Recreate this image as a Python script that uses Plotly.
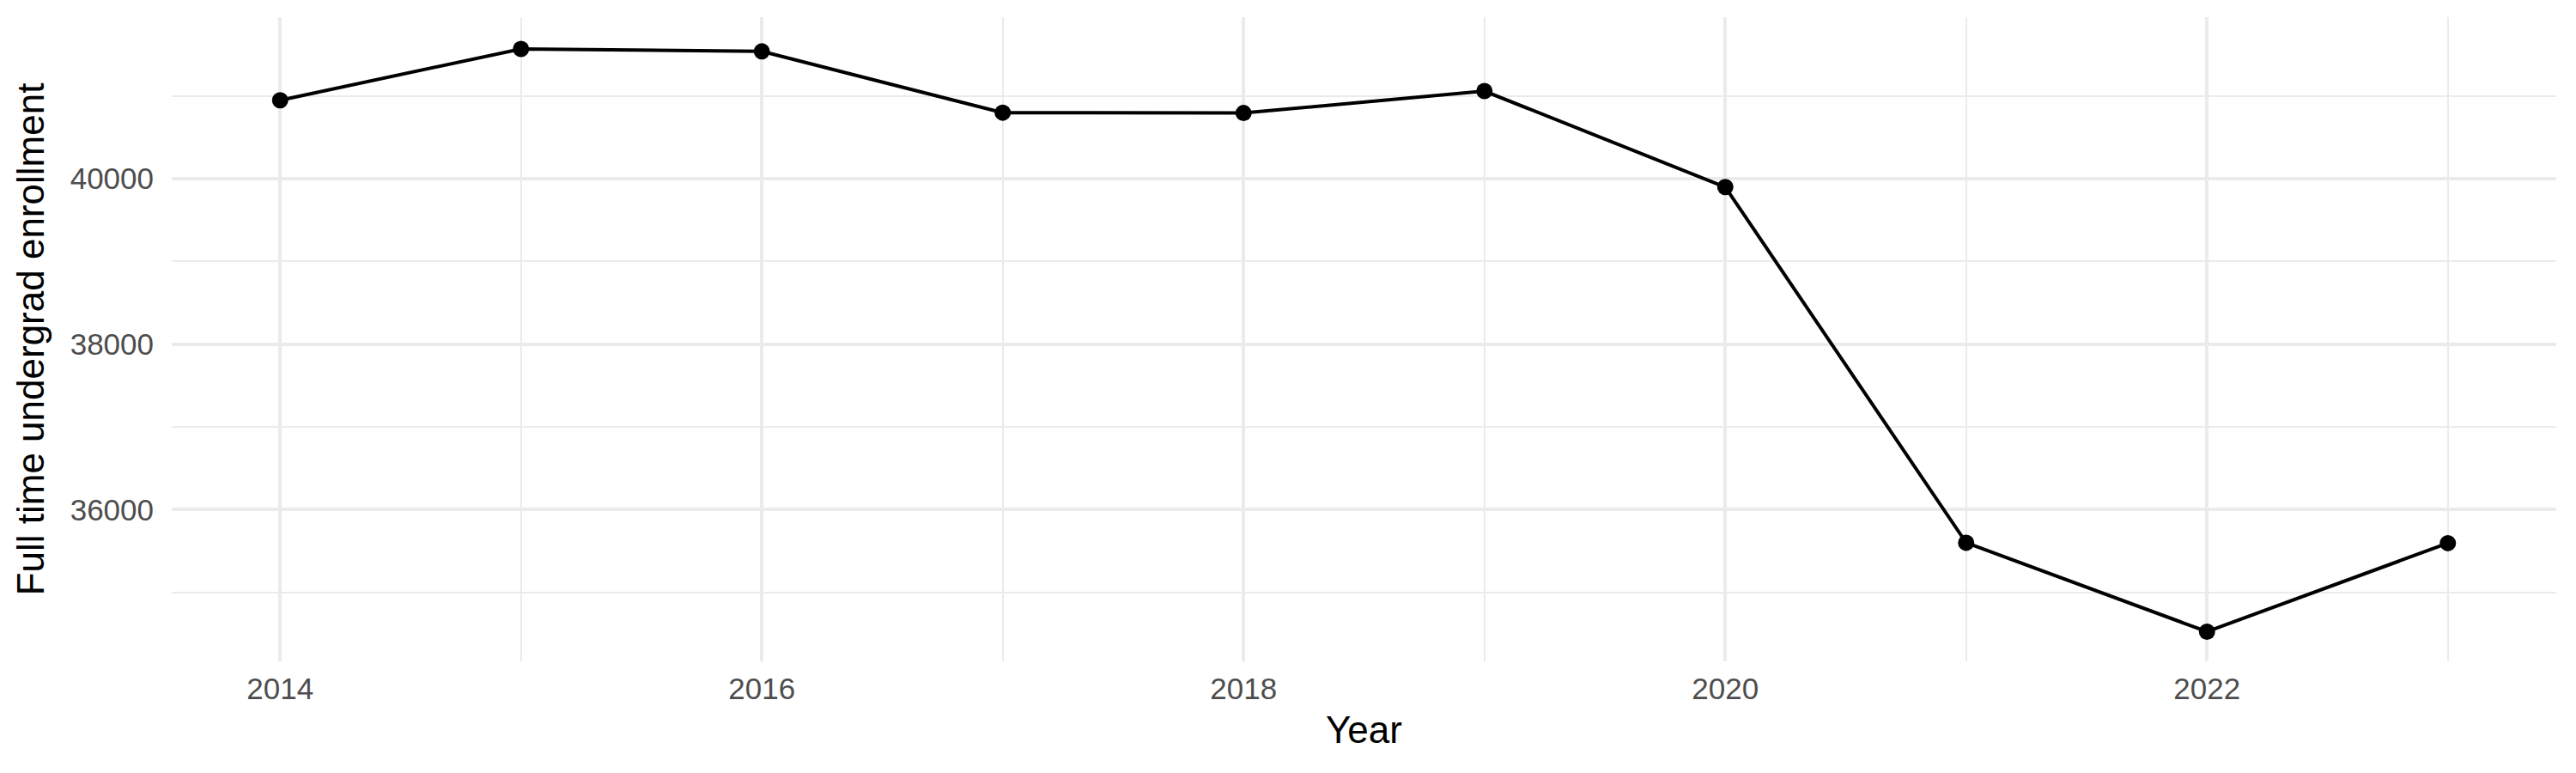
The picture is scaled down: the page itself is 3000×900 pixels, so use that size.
import plotly.graph_objects as go

years = [2014, 2015, 2016, 2017, 2018, 2019, 2020, 2021, 2022, 2023]
enrollment = [40950, 41570, 41540, 40800, 40795, 41060, 39900, 35600, 34525, 35595]

x_ticks = [2014, 2016, 2018, 2020, 2022]
y_ticks = [36000, 38000, 40000]

fig = go.Figure()

fig.add_trace(go.Scatter(
    x=years,
    y=enrollment,
    mode="lines+markers",
    line=dict(color="black", width=4),
    marker=dict(color="black", size=19),
    showlegend=False
))

# ggplot theme_minimal look (page body has an 8px margin, so size is trimmed)
fig.update_layout(
    width=2992,
    height=892,
    margin=dict(l=192, r=23, t=12, b=130),
    plot_bgcolor="white",
    paper_bgcolor="white",
    font=dict(family="Liberation Sans, Arial, sans-serif", color="black")
)

fig.update_xaxes(
    range=[2013.55, 2023.45],
    tickvals=x_ticks,
    ticktext=[str(v) for v in x_ticks],
    tickfont=dict(size=35, color="#4D4D4D"),
    ticklabelstandoff=8,
    showgrid=True, gridcolor="#EBEBEB", gridwidth=4,
    minor=dict(dtick=1, tick0=2013, showgrid=True, gridcolor="#EBEBEB", gridwidth=2),
    zeroline=False, showline=False,
    title=dict(text="Year", font=dict(size=44, color="black"), standoff=14)
)

fig.update_yaxes(
    range=[34166, 41954],
    tickvals=y_ticks,
    ticktext=[str(v) for v in y_ticks],
    tickfont=dict(size=35, color="#4D4D4D"),
    ticklabelstandoff=20,
    showgrid=True, gridcolor="#EBEBEB", gridwidth=4,
    minor=dict(dtick=1000, tick0=35000, showgrid=True, gridcolor="#EBEBEB", gridwidth=2),
    zeroline=False, showline=False,
    title=dict(text="Full time undergrad enrollment", font=dict(size=44, color="black"), standoff=16)
)

fig.write_html("out.html")
